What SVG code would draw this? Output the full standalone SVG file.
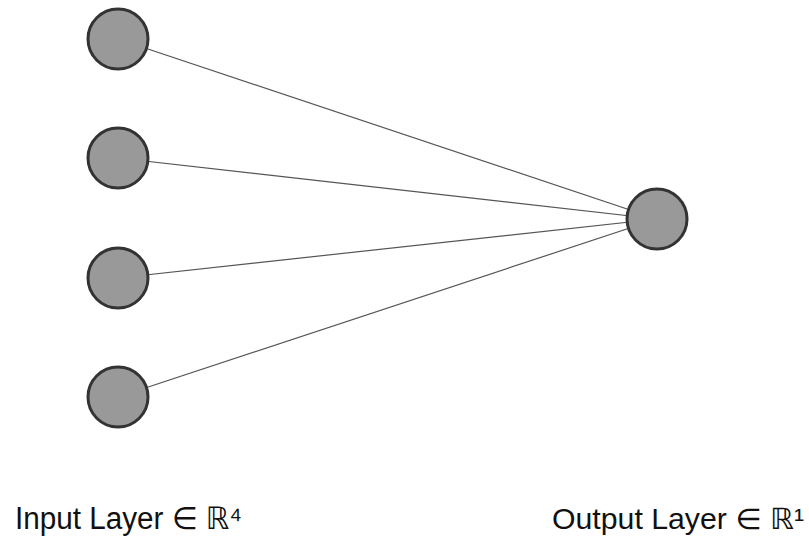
<svg xmlns="http://www.w3.org/2000/svg" width="809" height="542" viewBox="0 0 809 542">
<style>
.node{fill:#999999;stroke:#333333;stroke-width:3}
.edge{stroke:#555555;stroke-width:1.2;fill:none}
.lbl{font-family:"Liberation Sans","DejaVu Sans",sans-serif;font-size:31px;fill:#111111}
</style>
<rect width="809" height="542" fill="#ffffff"/>
<g id="connectors">
<line class="edge" x1="118" y1="39" x2="657" y2="219"/>
<line class="edge" x1="118" y1="158" x2="657" y2="219"/>
<line class="edge" x1="118" y1="278" x2="657" y2="219"/>
<line class="edge" x1="118" y1="397" x2="657" y2="219"/>
</g>
<g id="in1"><circle class="node" cx="118" cy="39" r="30"/></g>
<g id="in2"><circle class="node" cx="118" cy="158" r="30"/></g>
<g id="in3"><circle class="node" cx="118" cy="278" r="30"/></g>
<g id="in4"><circle class="node" cx="118" cy="397" r="30"/></g>
<g id="out1"><circle class="node" cx="657" cy="219" r="30"/></g>
<g id="labels">
<text class="lbl" x="15" y="529" textLength="227" lengthAdjust="spacingAndGlyphs">Input Layer ∈ ℝ⁴</text>
<text class="lbl" x="552" y="529" font-size="29" textLength="252" lengthAdjust="spacingAndGlyphs" style="font-size:29px">Output Layer ∈ ℝ¹</text>
</g>
</svg>
